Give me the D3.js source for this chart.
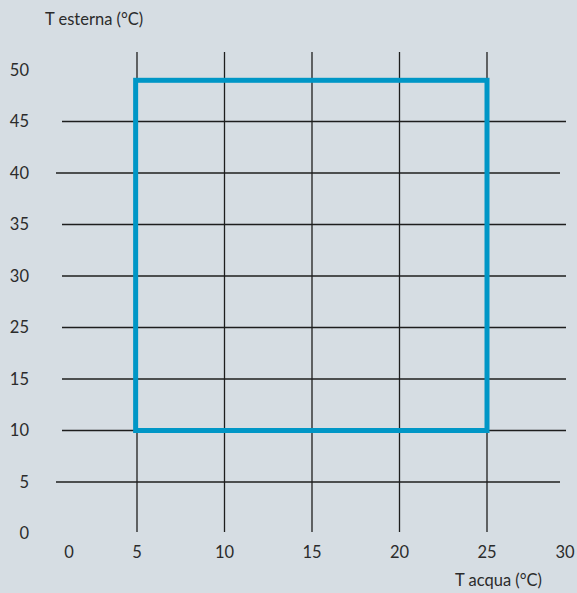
<!DOCTYPE html>
<html>
<head>
<meta charset="utf-8">
<script src="https://cdn.jsdelivr.net/npm/d3@7"></script>
<style>
  html, body { margin: 0; padding: 0; background: #d6dde3; }
  svg { display: block; }
  text { font-family: "Lato", "Noto Sans", sans-serif; fill: #2b2b2b; }
</style>
</head>
<body>
<svg id="chart" width="577" height="593"></svg>
<script>
// ---- data ----
const xTicks = [0, 5, 10, 15, 20, 25, 30];          // T acqua (°C)
const yTicks = [0, 5, 10, 15, 25, 30, 35, 40, 45, 50]; // T esterna (°C) labels as printed
const xGrid = [5, 10, 15, 20, 25];
const yGrid = [5, 10, 15, 25, 30, 35, 40, 45];
const yGridShort = [5, 40];                         // rows drawn slightly shifted left
const rangeX = [4.9, 25];                           // operating range, water temperature
const rangeY = [10, 49];                            // operating range, outside temperature
const xTitle = "T acqua (°C)";
const yTitle = "T esterna (°C)";

// ---- layout ----
const W = 577, H = 593;
const FS = 16.5;
const svg = d3.select("#chart");
svg.append("rect").attr("width", W).attr("height", H).attr("fill", "#d6dde3");

// x: grid positions linear between 5 and 25; end labels compressed
const x = d3.scaleLinear().domain([0, 5, 25, 30]).range([69, 137, 487, 565]);
// y: labels are evenly spaced (index based)
const y = d3.scaleLinear().domain(yTicks).range(yTicks.map((d, i) => 533.5 - 51.5 * i));

const gridTop = 52, gridBottom = 532;

// vertical grid
svg.append("g").selectAll("line").data(xGrid).join("line")
  .attr("x1", d => x(d)).attr("x2", d => x(d))
  .attr("y1", gridTop).attr("y2", gridBottom)
  .attr("stroke", "#1e1e1e").attr("stroke-width", 1.3);

// horizontal grid
svg.append("g").selectAll("line").data(yGrid).join("line")
  .attr("x1", d => yGridShort.includes(d) ? 56 : 62)
  .attr("x2", d => yGridShort.includes(d) ? 560 : 566)
  .attr("y1", d => y(d)).attr("y2", d => y(d))
  .attr("stroke", "#1e1e1e").attr("stroke-width", 1.3);

// operating range rectangle
svg.append("rect")
  .attr("x", x(rangeX[0])).attr("y", y(rangeY[1]))
  .attr("width", x(rangeX[1]) - x(rangeX[0]))
  .attr("height", y(rangeY[0]) - y(rangeY[1]))
  .attr("fill", "none").attr("stroke", "#0096c6").attr("stroke-width", 5);

// y tick labels
svg.append("g").selectAll("text").data(yTicks).join("text")
  .attr("x", 29).attr("y", d => y(d) + 1.5)
  .attr("text-anchor", "end").attr("dominant-baseline", "middle")
  .attr("font-size", FS)
  .text(d => d);

// x tick labels
svg.append("g").selectAll("text").data(xTicks).join("text")
  .attr("x", d => x(d)).attr("y", 554)
  .attr("text-anchor", "middle").attr("dominant-baseline", "middle")
  .attr("font-size", FS)
  .text(d => d);

// axis titles
svg.append("text").attr("x", 45).attr("y", 21)
  .attr("dominant-baseline", "middle").attr("font-size", FS)
  .text(yTitle);
svg.append("text").attr("x", 542).attr("y", 582)
  .attr("text-anchor", "end").attr("dominant-baseline", "middle").attr("font-size", FS)
  .text(xTitle);
</script>
</body>
</html>
